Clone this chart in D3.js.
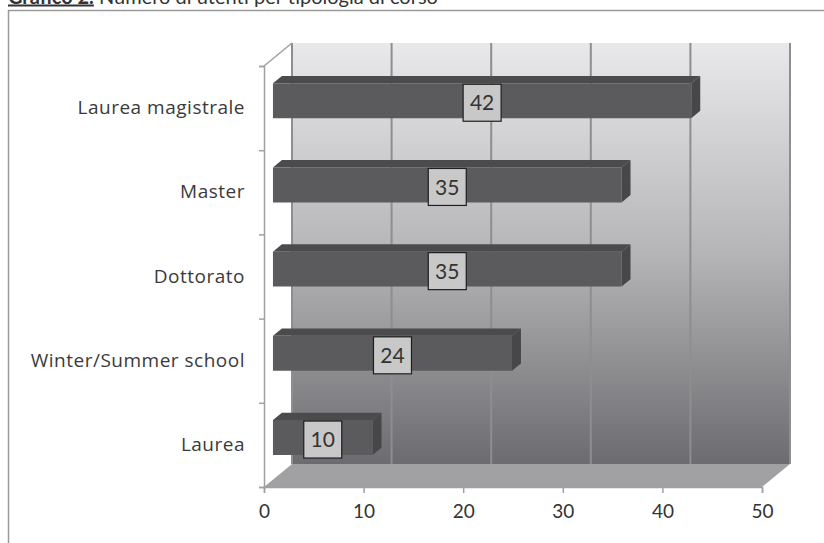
<!DOCTYPE html>
<html>
<head>
<meta charset="utf-8">
<title>Grafico 2</title>
<script src="https://d3js.org/d3.v7.min.js"></script>
<style>
  body { margin: 0; background: #fff; }
  text { font-family: Lato, "Open Sans", sans-serif; }
  .cat text { font-family: "Open Sans", sans-serif; letter-spacing: 0.5px; }
</style>
</head>
<body>
<div id="chart"></div>
<script>
// data
var categories = ["Laurea", "Winter/Summer school", "Dottorato", "Master", "Laurea magistrale"];
var values = [10, 24, 35, 35, 42];
var tickValues = [0, 10, 20, 30, 40, 50];

var W = 824, H = 543;
var depthX = 28, depthY = 23;   // oblique 3d offset of the back wall
var f1 = 0.32, f2 = 0.64;       // depth of the bars (front / back)

var svg = d3.select("#chart").append("svg")
  .attr("width", W).attr("height", H);

var x = d3.scaleLinear().domain([0, 50]).range([264, 762]);
var y = d3.scaleBand().domain(categories.slice().reverse())
  .range([66, 487]).paddingInner(0.585).paddingOuter(0.2925);
var yEdge = d3.scaleLinear().domain([0, categories.length]).range([487, 66]);

function P(px, py, f) { return [px + depthX * f, py - depthY * f]; }
function poly(pts) { return "M" + pts.map(function(p){ return p.join(","); }).join("L") + "Z"; }

// frame + title (the title is cut at the top edge, as in the source)
svg.append("rect").attr("x", 8.5).attr("y", 10.5).attr("width", 830).attr("height", 560)
  .attr("fill", "none").attr("stroke", "#9a9a9a").attr("stroke-width", 1.5);

var title = svg.append("text").attr("x", 8).attr("y", 3.5)
  .attr("font-size", 20).attr("fill", "#333");
title.append("tspan").attr("font-weight", "bold").attr("text-decoration", "underline").text("Grafico 2.");
title.append("tspan").text(" Numero di utenti per tipologia di corso");

// back wall with gradient
var grad = svg.append("defs").append("linearGradient").attr("id", "wall")
  .attr("x1", 0).attr("y1", 0).attr("x2", 0).attr("y2", 1);
grad.append("stop").attr("offset", "0%").attr("stop-color", "#e9e9eb");
grad.append("stop").attr("offset", "50%").attr("stop-color", "#b5b5b7");
grad.append("stop").attr("offset", "100%").attr("stop-color", "#6c6c70");

var wallTL = P(x(0), yEdge(5), 1), wallBR = P(x(50), yEdge(0), 1);
svg.append("rect")
  .attr("x", wallTL[0]).attr("y", wallTL[1])
  .attr("width", wallBR[0] - wallTL[0]).attr("height", wallBR[1] - wallTL[1])
  .attr("fill", "url(#wall)");

// gridlines on the back wall
svg.selectAll(".grid").data(tickValues).enter().append("line")
  .attr("class", "grid")
  .attr("x1", function(d){ return P(x(d), 0, 1)[0]; })
  .attr("x2", function(d){ return P(x(d), 0, 1)[0]; })
  .attr("y1", wallTL[1]).attr("y2", wallBR[1])
  .attr("stroke", "#8e8e90").attr("stroke-width", 2);

// floor
svg.append("path")
  .attr("d", poly([[x(0), yEdge(0)], [x(50), yEdge(0)], P(x(50), yEdge(0), 1), P(x(0), yEdge(0), 1)]))
  .attr("fill", "#a1a1a3");

// side wall top edge
svg.append("path")
  .attr("d", poly([[x(0), yEdge(5)], P(x(0), yEdge(5), 1)]).replace("Z", ""))
  .attr("stroke", "#a0a0a0").attr("stroke-width", 1.5).attr("fill", "none");

// x axis
var gx = svg.append("g").attr("transform", "translate(0," + yEdge(0) + ")")
  .call(d3.axisBottom(x).tickValues(tickValues).tickSize(6).tickPadding(12));
gx.select(".domain").attr("stroke", "#a0a0a0").attr("stroke-width", 1.5);
gx.selectAll(".tick line").attr("stroke", "#a0a0a0").attr("stroke-width", 1.5);
gx.selectAll(".tick text").attr("font-size", 19).attr("fill", "#333");

// y axis: ticks at band edges, labels at centres
var gyTicks = svg.append("g").attr("transform", "translate(" + x(0) + ",0)")
  .call(d3.axisLeft(yEdge).ticks(5).tickFormat("").tickSize(5).tickSizeOuter(5));
gyTicks.select(".domain").attr("stroke", "#a0a0a0").attr("stroke-width", 1.5);
gyTicks.selectAll(".tick line").attr("stroke", "#a0a0a0").attr("stroke-width", 1.5);

var yLab = d3.scaleBand().domain(categories.slice().reverse()).range([66, 487]);
var gyLab = svg.append("g").attr("class", "cat").attr("transform", "translate(" + x(0) + ",0)")
  .call(d3.axisLeft(yLab).tickSize(0).tickPadding(19));
gyLab.select(".domain").remove();
gyLab.selectAll(".tick text").attr("font-size", 19).attr("fill", "#3a3a3a");

// 3d bars
var rows = categories.map(function(c, i){ return { cat: c, val: values[i] }; });
var bars = svg.selectAll(".bar").data(rows).enter().append("g").attr("class", "bar");

bars.append("path").attr("fill", "#4b4b4d")  // top face
  .attr("d", function(d){
    var yt = y(d.cat);
    return poly([P(x(0), yt, f1), P(x(d.val), yt, f1), P(x(d.val), yt, f2), P(x(0), yt, f2)]);
  });
bars.append("path").attr("fill", "#474749")  // right side face
  .attr("d", function(d){
    var yt = y(d.cat), yb = yt + y.bandwidth();
    return poly([P(x(d.val), yt, f1), P(x(d.val), yt, f2), P(x(d.val), yb, f2), P(x(d.val), yb, f1)]);
  });
bars.append("path").attr("fill", "#5b5b5d")  // front face
  .attr("d", function(d){
    var yt = y(d.cat), yb = yt + y.bandwidth();
    return poly([P(x(0), yt, f1), P(x(d.val), yt, f1), P(x(d.val), yb, f1), P(x(0), yb, f1)]);
  });

// value labels in boxes
var lab = bars.append("g").attr("transform", function(d){
  var c = P((x(0) + x(d.val)) / 2, y(d.cat) + y.bandwidth() / 2 + 2, f1);
  return "translate(" + c[0] + "," + c[1] + ")";
});
lab.append("rect").attr("x", -19).attr("y", -18.5).attr("width", 38).attr("height", 37)
  .attr("fill", "#c8c8c9").attr("stroke", "#1e1e1e").attr("stroke-width", 1.2);
lab.append("text").attr("text-anchor", "middle").attr("dy", "0.36em")
  .attr("font-size", 21).attr("fill", "#333")
  .text(function(d){ return d.val; });
</script>
</body>
</html>
